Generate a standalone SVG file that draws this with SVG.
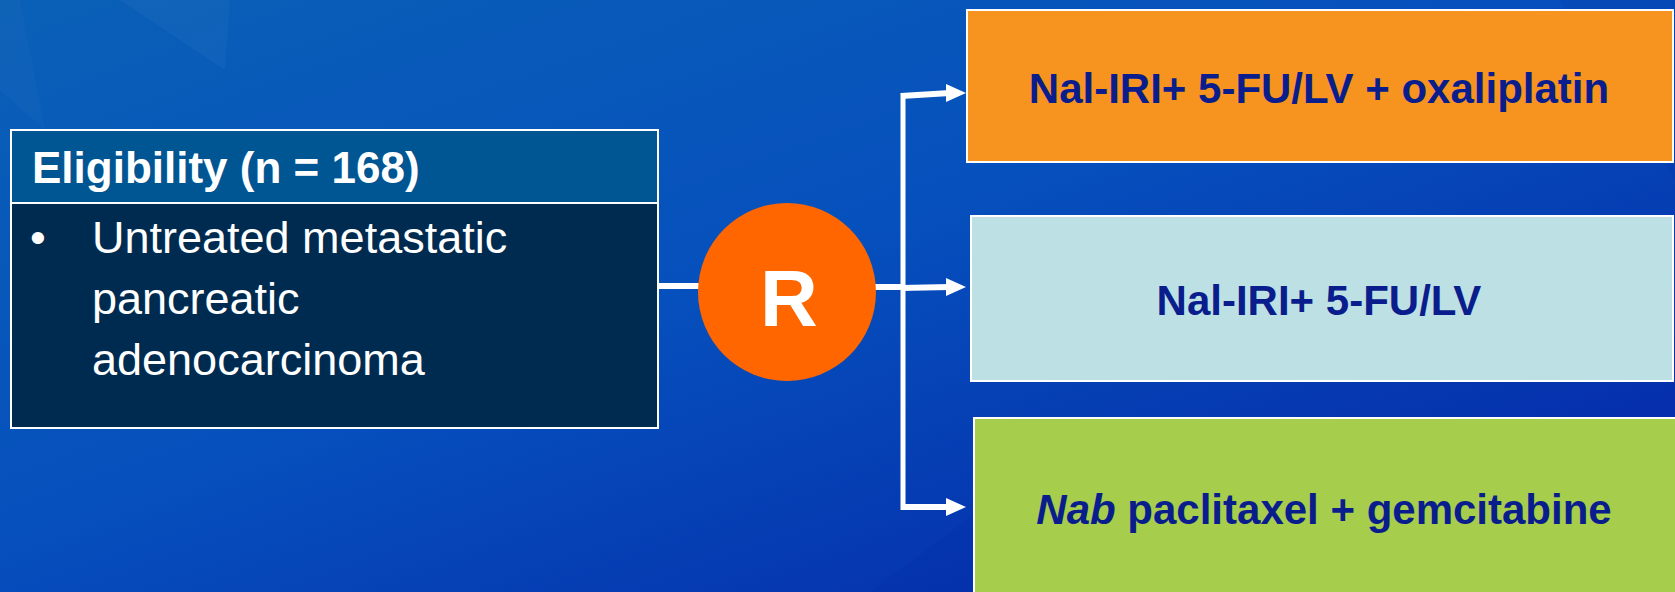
<svg xmlns="http://www.w3.org/2000/svg" width="1675" height="592" viewBox="0 0 1675 592">
  <style>
    .edge { stroke: #ffffff; stroke-width: 6; fill: none; }
    .bus { stroke: #ffffff; stroke-width: 5; fill: none; }
    .head-tip { fill: #ffffff; }
    .frame { stroke: #ffffff; stroke-width: 2; }
    .arm { font-family: "Liberation Sans", Arial, sans-serif; font-weight: bold; font-size: 42px; fill: #0a1d8c; text-anchor: middle; }
    .head { font-family: "Liberation Sans", Arial, sans-serif; font-weight: bold; font-size: 44px; fill: #ffffff; }
    .body { font-family: "Liberation Sans", Arial, sans-serif; font-size: 45px; fill: #ffffff; }
  </style>
  <defs>
    <linearGradient id="bg" x1="0" y1="0" x2="1" y2="1">
      <stop offset="0" stop-color="#0a60b6"/>
      <stop offset="0.45" stop-color="#0650bd"/>
      <stop offset="1" stop-color="#0522a6"/>
    </linearGradient>
  </defs>

  <!-- backdrop with faint facets -->
  <rect x="0" y="0" width="1675" height="592" fill="url(#bg)"/>
  <polygon points="120,0 230,0 225,70" fill="#ffffff" opacity="0.03"/>
  <polygon points="0,0 20,0 45,130 0,90" fill="#ffffff" opacity="0.025"/>
  <polygon points="1560,0 1675,0 1675,180" fill="#000a60" opacity="0.06"/>
  <polygon points="870,592 1100,420 1200,592" fill="#001080" opacity="0.06"/>

  <!-- connectors -->
  <g id="connectors">
    <line class="edge" x1="658" y1="286" x2="700" y2="286"/>
    <line class="edge" x1="875" y1="287" x2="905" y2="287"/>
    <line class="bus" x1="903" y1="93" x2="903" y2="510"/>
    <line class="edge" x1="901" y1="96" x2="950" y2="93"/>
    <polygon class="head-tip" points="946,84 966,93 946,102"/>
    <line class="edge" x1="901" y1="288" x2="950" y2="287"/>
    <polygon class="head-tip" points="946,278 966,287 946,296"/>
    <line class="edge" x1="901" y1="507" x2="950" y2="507"/>
    <polygon class="head-tip" points="946,498 966,507 946,516"/>
  </g>

  <!-- eligibility -->
  <g id="eligibility">
    <rect class="frame" x="11" y="130" width="647" height="73" fill="#005593"/>
    <rect class="frame" x="11" y="203" width="647" height="225" fill="#002b51"/>
    <text class="head" x="32" y="183">Eligibility (n = 168)</text>
    <text class="body" x="30" y="253">•</text>
    <text class="body" x="92" y="253">Untreated metastatic</text>
    <text class="body" x="92" y="314">pancreatic</text>
    <text class="body" x="92" y="375">adenocarcinoma</text>
  </g>

  <!-- randomisation -->
  <g id="randomize">
    <circle cx="787" cy="292" r="89" fill="#ff6600"/>
    <text x="789" y="326" text-anchor="middle" font-family="'Liberation Sans', Arial, sans-serif" font-weight="bold" font-size="80" fill="#ffffff">R</text>
  </g>

  <!-- treatment arms -->
  <g id="arm-oxaliplatin">
    <rect class="frame" x="967" y="10" width="706" height="152" fill="#f7941f"/>
    <text class="arm" x="1319" y="103">Nal-IRI+ 5-FU/LV + oxaliplatin</text>
  </g>
  <g id="arm-5fu">
    <rect class="frame" x="971" y="216" width="702" height="165" fill="#bce0e4"/>
    <text class="arm" x="1319" y="315">Nal-IRI+ 5-FU/LV</text>
  </g>
  <g id="arm-nab">
    <rect class="frame" x="974" y="418" width="710" height="190" fill="#a6cd4c"/>
    <text class="arm" x="1324" y="524"><tspan font-style="italic">Nab</tspan> paclitaxel + gemcitabine</text>
  </g>
</svg>
